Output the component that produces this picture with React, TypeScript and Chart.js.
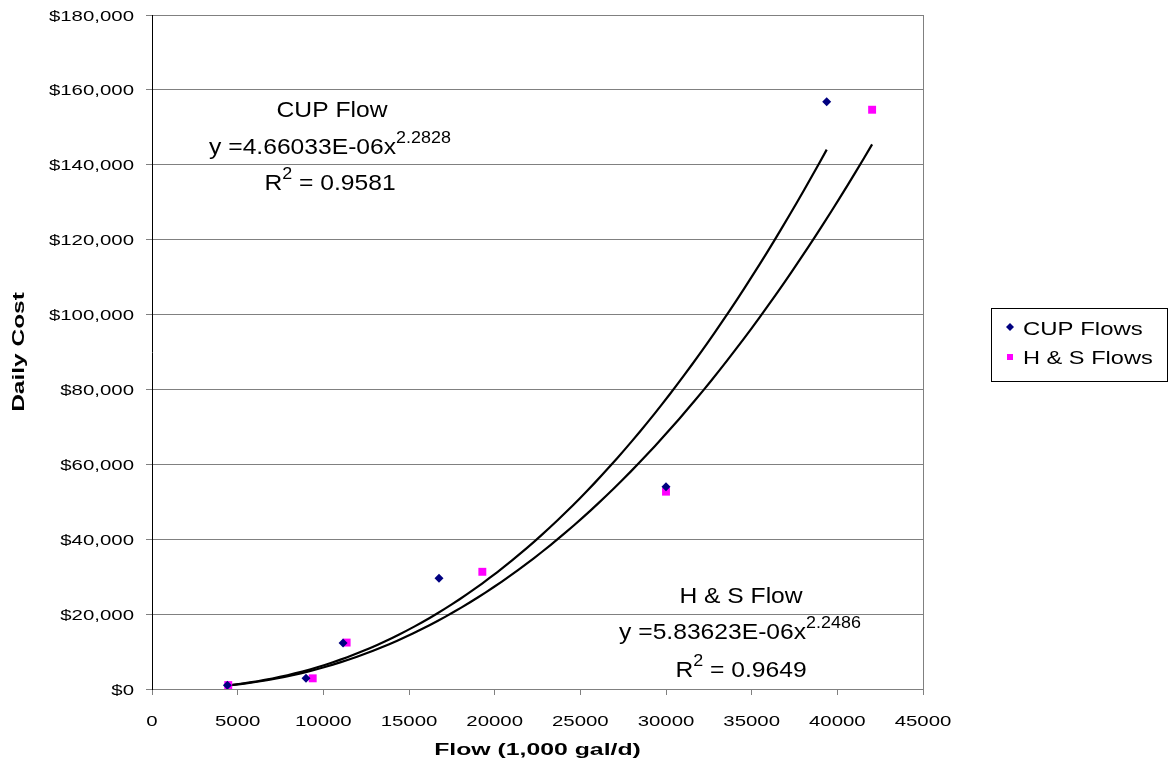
import React, { useEffect, useRef } from "react";
import { Chart, registerables } from "chart.js";

Chart.register(...registerables);

// ---- data ----
const CUP_FLOW = [4400, 8990, 11150, 16750, 30000, 39380];
const CUP_COST = [1000, 2850, 12300, 29600, 54000, 156800];
const HS_FLOW = [4450, 9380, 11360, 19280, 30000, 42030];
const HS_COST = [1050, 2850, 12400, 31300, 52700, 154700];

// power trend-line coefficients printed on the chart
const CUP_COEF = 4.66033e-6;
const CUP_EXP = 2.2828;
const HS_COEF = 5.83623e-6;
const HS_EXP = 2.2486;

const X_MIN = 0;
const X_MAX = 45000;
const X_STEP = 5000;
const Y_MIN = 0;
const Y_MAX = 180000;
const Y_STEP = 20000;

const SERIES_NAMES = ["CUP Flows", "H & S Flows"];
const X_TITLE = "Flow (1,000 gal/d)";
const Y_TITLE = "Daily Cost";

const FONT = "'Liberation Sans', Arial, sans-serif";

function trend(xs: number[], coef: number, exp: number) {
  const lo = Math.min(...xs);
  const hi = Math.max(...xs);
  const n = 80;
  const pts: { x: number; y: number }[] = [];
  for (let i = 0; i <= n; i++) {
    const x = lo + ((hi - lo) * i) / n;
    pts.push({ x, y: coef * Math.pow(x, exp) });
  }
  return pts;
}

type Seg = { t: string; font: string; dy: number };

function drawSegs(ctx: CanvasRenderingContext2D, segs: Seg[], cx: number, y: number, sx: number) {
  let total = 0;
  const widths = segs.map((s) => {
    ctx.font = s.font;
    const w = ctx.measureText(s.t).width * sx;
    total += w;
    return w;
  });
  let x = cx - total / 2;
  segs.forEach((s, i) => {
    ctx.save();
    ctx.font = s.font;
    ctx.textAlign = "left";
    ctx.textBaseline = "alphabetic";
    ctx.translate(x, y + s.dy);
    ctx.scale(sx, 1);
    ctx.fillText(s.t, 0, 0);
    ctx.restore();
    x += widths[i];
  });
}

function drawText(
  ctx: CanvasRenderingContext2D,
  t: string,
  x: number,
  y: number,
  font: string,
  align: "left" | "center" | "right",
  sx: number
) {
  ctx.save();
  ctx.font = font;
  const w = ctx.measureText(t).width * sx;
  let left = x;
  if (align === "center") left = x - w / 2;
  if (align === "right") left = x - w;
  ctx.textAlign = "left";
  ctx.textBaseline = "alphabetic";
  ctx.translate(left, y);
  ctx.scale(sx, 1);
  ctx.fillText(t, 0, 0);
  ctx.restore();
}

const textPlugin = {
  id: "excelText",
  beforeDatasetsDraw(chart: any) {
    const { ctx, chartArea } = chart;
    ctx.save();
    ctx.strokeStyle = "#808080";
    ctx.lineWidth = 1;
    ctx.beginPath();
    ctx.moveTo(Math.round(chartArea.right) + 0.5, chartArea.top);
    ctx.lineTo(Math.round(chartArea.right) + 0.5, chartArea.bottom);
    ctx.stroke();
    ctx.restore();
  },
  afterDraw(chart: any) {
    const { ctx, chartArea } = chart;
    const xs = chart.scales.x;
    const ys = chart.scales.y;
    ctx.save();
    ctx.fillStyle = "#000";

    // y tick labels
    const tickFont = `15px ${FONT}`;
    ys.ticks.forEach((t: any) => {
      const py = ys.getPixelForValue(t.value);
      const label = "$" + Number(t.value).toLocaleString("en-US");
      drawText(ctx, label, chartArea.left - 18, py + 5.5, tickFont, "right", 1.36);
    });
    // x tick labels
    xs.ticks.forEach((t: any) => {
      const px = xs.getPixelForValue(t.value);
      drawText(ctx, String(t.value), px, chartArea.bottom + 37, tickFont, "center", 1.36);
    });

    // axis titles
    const titleFont = `bold 16px ${FONT}`;
    drawText(ctx, X_TITLE, (chartArea.left + chartArea.right) / 2, chartArea.bottom + 66, titleFont, "center", 1.55);
    ctx.save();
    ctx.translate(24, (chartArea.top + chartArea.bottom) / 2);
    ctx.rotate(-Math.PI / 2);
    drawText(ctx, Y_TITLE, 0, 0, titleFont, "center", 1.53);
    ctx.restore();

    // trend-line annotations
    const aF = `22px ${FONT}`;
    const sF = `16px ${FONT}`;
    const sx = 1.12;
    drawSegs(ctx, [{ t: "CUP Flow", font: aF, dy: 0 }], 332, 117, sx);
    drawSegs(
      ctx,
      [
        { t: "y =4.66033E-06x", font: aF, dy: 0 },
        { t: "2.2828", font: sF, dy: -11 },
      ],
      330,
      154,
      sx
    );
    drawSegs(
      ctx,
      [
        { t: "R", font: aF, dy: 0 },
        { t: "2", font: sF, dy: -11 },
        { t: " = 0.9581", font: aF, dy: 0 },
      ],
      330,
      190,
      sx
    );
    drawSegs(ctx, [{ t: "H & S Flow", font: aF, dy: 0 }], 741, 603, sx);
    drawSegs(
      ctx,
      [
        { t: "y =5.83623E-06x", font: aF, dy: 0 },
        { t: "2.2486", font: sF, dy: -11 },
      ],
      740,
      639,
      sx
    );
    drawSegs(
      ctx,
      [
        { t: "R", font: aF, dy: 0 },
        { t: "2", font: sF, dy: -11 },
        { t: " = 0.9649", font: aF, dy: 0 },
      ],
      741,
      677,
      sx
    );

    // legend
    ctx.strokeStyle = "#000";
    ctx.lineWidth = 1;
    ctx.strokeRect(991.5, 308.5, 176, 73);
    // diamond
    ctx.fillStyle = "#000080";
    ctx.beginPath();
    ctx.moveTo(1010, 323);
    ctx.lineTo(1014, 327);
    ctx.lineTo(1010, 331);
    ctx.lineTo(1006, 327);
    ctx.closePath();
    ctx.fill();
    // square
    ctx.fillStyle = "#FF00FF";
    ctx.fillRect(1007, 354, 6, 6);
    ctx.fillStyle = "#000";
    const lF = `18px ${FONT}`;
    drawText(ctx, SERIES_NAMES[0], 1023, 335, lF, "left", 1.33);
    drawText(ctx, SERIES_NAMES[1], 1023, 364, lF, "left", 1.31);
    ctx.restore();
  },
};

export default function App() {
  const ref = useRef<HTMLCanvasElement | null>(null);
  useEffect(() => {
    if (!ref.current) return;
    const cupPts = CUP_FLOW.map((x, i) => ({ x, y: CUP_COST[i] }));
    const hsPts = HS_FLOW.map((x, i) => ({ x, y: HS_COST[i] }));
    const chart = new Chart(ref.current, {
      type: "scatter",
      data: {
        datasets: [
          {
            label: SERIES_NAMES[0],
            data: cupPts,
            pointStyle: "rectRot",
            pointRadius: 4.5,
            backgroundColor: "#000080",
            borderColor: "#000080",
            borderWidth: 0,
            order: 0,
          },
          {
            label: SERIES_NAMES[1],
            data: hsPts,
            pointStyle: "rect",
            pointRadius: 5.6,
            backgroundColor: "#FF00FF",
            borderColor: "#FF00FF",
            borderWidth: 0,
            order: 0,
          },
          {
            label: "CUP trend",
            data: trend(CUP_FLOW, CUP_COEF, CUP_EXP),
            showLine: true,
            pointRadius: 0,
            borderColor: "#000",
            borderWidth: 2.2,
            order: 1,
          } as any,
          {
            label: "H&S trend",
            data: trend(HS_FLOW, HS_COEF, HS_EXP),
            showLine: true,
            pointRadius: 0,
            borderColor: "#000",
            borderWidth: 2.2,
            order: 1,
          } as any,
        ],
      },
      options: {
        animation: false,
        responsive: false,
        maintainAspectRatio: false,
        layout: { padding: { top: 15, right: 246, left: 0, bottom: 0 } },
        plugins: {
          legend: { display: false },
          tooltip: { enabled: false },
        },
        scales: {
          x: {
            type: "linear",
            min: X_MIN,
            max: X_MAX,
            ticks: { stepSize: X_STEP, display: false },
            grid: {
              drawOnChartArea: false,
              drawTicks: true,
              tickLength: 6,
              tickColor: "#808080",
            },
            border: { color: "#808080" },
            afterFit: (s: any) => {
              s.height = 84;
            },
          },
          y: {
            type: "linear",
            min: Y_MIN,
            max: Y_MAX,
            ticks: { stepSize: Y_STEP, display: false },
            grid: {
              color: "#808080",
              drawTicks: true,
              tickLength: 6,
              tickColor: "#808080",
            },
            border: { color: "#000" },
            afterFit: (s: any) => {
              s.width = 152;
            },
          },
        },
      },
      plugins: [textPlugin],
    });
    return () => chart.destroy();
  }, []);
  return (
    <div style={{ position: "fixed", left: 0, top: 0, width: 1169, height: 773, background: "#fff" }}>
      <canvas ref={ref} width={1169} height={773} style={{ display: "block" }} />
    </div>
  );
}
